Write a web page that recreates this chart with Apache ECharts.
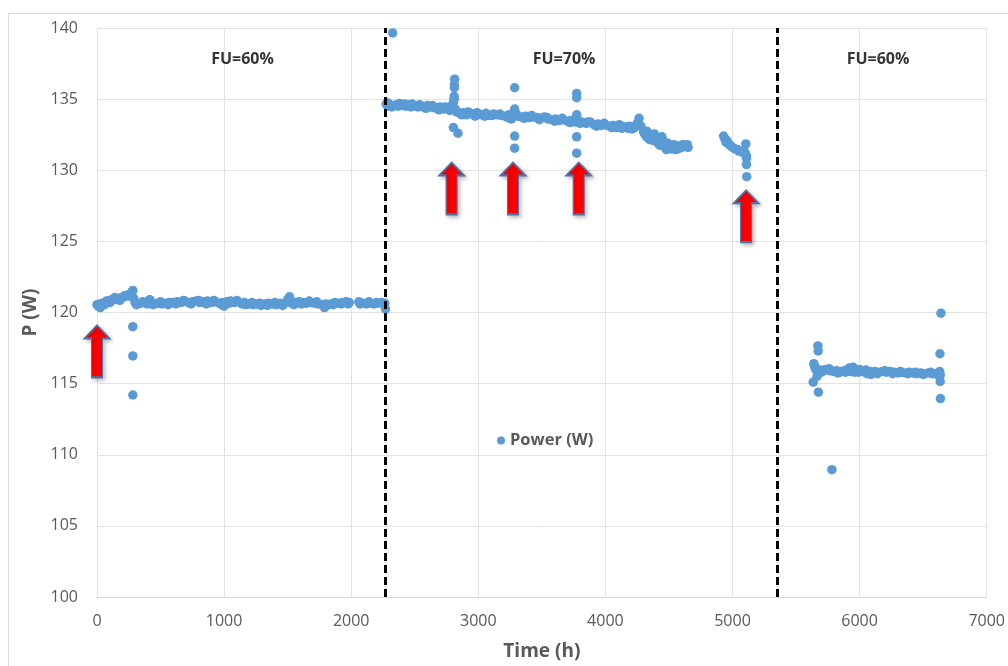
<!DOCTYPE html>
<html>
<head>
<meta charset="utf-8">
<title>Power vs time</title>
<script src="https://cdn.jsdelivr.net/npm/echarts@6/dist/echarts.min.js"></script>
<style>
  html, body { margin: 0; padding: 0; background: #fff; }
  #chart { width: 1008px; height: 666px; }
</style>
</head>
<body>
<div id="chart"></div>
<script>
// FU=60% period, first run [time h, power W]
const powerFU60a = [
  [0, 120.55], [10, 120.45], [25, 120.35], [40, 120.5], [55, 120.7], [75, 120.8],
  [95, 120.85], [115, 120.9], [135, 120.9], [155, 120.95], [175, 121.0], [195, 121.05],
  [215, 121.1], [235, 121.2], [250, 121.25], [265, 121.3], [275, 121.45], [282, 121.55],
  [290, 121.0], [300, 120.7], [320, 120.6], [345, 120.65], [370, 120.7], [395, 120.6],
  [415, 120.9], [430, 120.7], [455, 120.6], [480, 120.65], [510, 120.6], [540, 120.65],
  [570, 120.7], [600, 120.7], [630, 120.75], [660, 120.7], [690, 120.8], [720, 120.7],
  [750, 120.75], [780, 120.8], [810, 120.7], [840, 120.75], [870, 120.8], [900, 120.7],
  [930, 120.75], [960, 120.65], [990, 120.7], [1000, 120.45], [1020, 120.75], [1050, 120.8],
  [1080, 120.7], [1110, 120.75], [1140, 120.6], [1170, 120.55], [1200, 120.6], [1230, 120.55],
  [1260, 120.6], [1290, 120.5], [1320, 120.6], [1350, 120.65], [1380, 120.6], [1410, 120.55],
  [1440, 120.65], [1470, 120.6], [1500, 120.9], [1515, 121.1], [1530, 120.65], [1560, 120.7],
  [1590, 120.75], [1620, 120.7], [1650, 120.65], [1680, 120.7], [1710, 120.65], [1740, 120.6],
  [1770, 120.55], [1790, 120.35], [1810, 120.5], [1840, 120.6], [1870, 120.7], [1900, 120.65],
  [1930, 120.7], [1960, 120.75], [1985, 120.7], [2060, 120.75], [2090, 120.65], [2120, 120.6],
  [2150, 120.65], [2180, 120.6], [2210, 120.65], [2240, 120.7], [2265, 120.65], [2270, 120.25],
  [20, 120.6], [60, 120.55], [100, 120.7], [140, 121.05], [180, 120.85], [220, 121.2],
  [260, 121.15], [310, 120.55], [360, 120.75], [440, 120.55], [500, 120.75], [560, 120.55],
  [620, 120.6], [680, 120.85], [740, 120.6], [800, 120.85], [860, 120.6], [920, 120.85],
  [980, 120.55], [1040, 120.65], [1100, 120.85], [1160, 120.7], [1220, 120.7], [1280, 120.65],
  [1340, 120.5], [1400, 120.7], [1460, 120.5], [1550, 120.55], [1610, 120.6], [1670, 120.8],
  [1730, 120.75], [1800, 120.6], [1860, 120.55], [1920, 120.6], [1975, 120.6], [2070, 120.6],
  [2140, 120.75], [2200, 120.7], [2255, 120.6],
  [282, 119.0], [282, 116.95], [282, 114.2]
]

// FU=70% period
const powerFU70 = [
  [2275, 134.65], [2290, 134.5], [2305, 134.6], [2326, 139.65], [2330, 134.55], [2355, 134.6],
  [2380, 134.7], [2405, 134.55], [2430, 134.5], [2455, 134.6], [2480, 134.65], [2500, 134.55],
  [2525, 134.45], [2550, 134.5], [2575, 134.4], [2600, 134.55], [2625, 134.45], [2650, 134.4],
  [2675, 134.35], [2700, 134.45], [2725, 134.3], [2750, 134.35], [2775, 134.2], [2795, 134.4],
  [2805, 134.8], [2810, 135.0], [2810, 135.2], [2812, 135.8], [2812, 136.0], [2814, 136.4],
  [2804, 133.0], [2840, 132.6], [2830, 134.1], [2855, 134.0], [2880, 134.05], [2905, 133.9],
  [2930, 134.0], [2955, 133.95], [2975, 133.8], [3000, 133.95], [3030, 133.9], [3060, 134.0],
  [3090, 133.85], [3120, 133.95], [3150, 133.9], [3180, 133.85], [3210, 133.8], [3240, 133.9],
  [3260, 133.6], [3286, 134.3], [3286, 135.8], [3286, 132.4], [3286, 131.55], [3290, 133.85],
  [3310, 133.8], [3340, 133.75], [3370, 133.8], [3400, 133.7], [3430, 133.75], [3460, 133.7],
  [3490, 133.65], [3520, 133.75], [3550, 133.6], [3580, 133.55], [3610, 133.6], [3640, 133.5],
  [3670, 133.55], [3700, 133.45], [3730, 133.5], [3760, 133.4], [3774, 135.4], [3774, 135.1],
  [3774, 133.9], [3774, 132.35], [3774, 131.2], [3790, 133.5], [3820, 133.35], [3850, 133.3],
  [3880, 133.4], [3910, 133.2], [3940, 133.25], [3970, 133.15], [4000, 133.2], [4030, 133.1],
  [4060, 133.15], [4090, 133.0], [4110, 133.2], [4130, 132.95], [4160, 133.05], [4190, 133.1],
  [4210, 132.9], [4230, 133.0], [4250, 133.3], [4265, 133.65], [4280, 133.1], [4300, 132.7],
  [4315, 132.45], [4330, 132.3], [4345, 132.5], [4360, 132.25], [4375, 132.1], [4390, 132.3],
  [4405, 132.0], [4420, 131.85], [4440, 132.1], [4455, 131.8], [4470, 131.6], [4490, 131.9],
  [4505, 131.75], [4520, 131.5], [4540, 131.8], [4560, 131.65], [4580, 131.7], [4600, 131.6],
  [4620, 131.75], [4640, 131.7], [4650, 131.6],
  [2285, 134.75], [2320, 134.45], [2370, 134.5], [2420, 134.65], [2470, 134.45], [2540, 134.6],
  [2590, 134.35], [2640, 134.55], [2690, 134.25], [2740, 134.45], [2785, 134.5], [2820, 134.3],
  [2870, 133.9], [2920, 134.1], [2990, 134.05], [3050, 133.8], [3110, 133.85], [3170, 133.95],
  [3230, 133.7], [3300, 133.95], [3360, 133.65], [3420, 133.85], [3480, 133.55], [3540, 133.7],
  [3600, 133.45], [3660, 133.65], [3720, 133.35], [3800, 133.3], [3860, 133.4], [3930, 133.1],
  [3990, 133.3], [4050, 133.0], [4120, 133.1], [4180, 132.95], [4240, 133.15], [4310, 132.7],
  [4350, 132.15], [4400, 132.3], [4430, 131.75], [4460, 132.0], [4500, 131.55], [4530, 131.7],
  [4570, 131.5], [4610, 131.8], [4645, 131.8], [4325, 132.75], [4385, 132.55], [4445, 132.35],
  [4480, 131.45], [4550, 131.45],
  [4930, 132.4], [4940, 132.2], [4950, 131.95], [4965, 131.9], [4980, 131.75], [5000, 131.6],
  [5020, 131.5], [5040, 131.45], [5060, 131.35], [5080, 131.25], [5100, 131.2], [5105, 131.85],
  [5110, 131.0], [5110, 130.85], [5110, 130.4], [5112, 129.55],
  [4955, 132.1], [4990, 131.7], [5050, 131.35], [5090, 131.35]
]

// FU=60% period, second run
const powerFU60b = [
  [5635, 115.1], [5640, 116.4], [5645, 116.25], [5655, 116.0], [5665, 115.5], [5672, 117.65],
  [5674, 117.3], [5676, 114.4], [5690, 115.95], [5710, 115.9], [5730, 116.0], [5750, 115.95],
  [5770, 115.9], [5782, 108.95], [5800, 115.85], [5820, 115.9], [5840, 115.8], [5860, 115.85],
  [5880, 115.9], [5900, 115.95], [5920, 116.1], [5940, 116.05], [5960, 115.8], [5980, 115.95],
  [6000, 116.0], [6020, 115.9], [6040, 115.8], [6060, 115.7], [6080, 115.85], [6100, 115.75],
  [6120, 115.85], [6150, 115.8], [6180, 115.85], [6210, 115.8], [6240, 115.85], [6270, 115.8],
  [6300, 115.75], [6330, 115.8], [6360, 115.75], [6390, 115.8], [6420, 115.75], [6450, 115.7],
  [6480, 115.75], [6510, 115.7], [6540, 115.75], [6570, 115.7], [6600, 115.7], [6620, 115.75],
  [5650, 116.1], [5700, 115.8], [5760, 116.05], [5830, 115.75], [5890, 115.8], [5930, 115.85],
  [5950, 116.15], [5990, 115.8], [6050, 115.95], [6090, 115.65], [6140, 115.7], [6200, 115.9],
  [6260, 115.7], [6320, 115.85], [6380, 115.7], [6440, 115.8], [6500, 115.65], [6560, 115.8],
  [6610, 115.65],
  [6630, 115.85], [6635, 115.6], [6632, 117.1], [6634, 115.15], [6636, 113.95], [6640, 119.95]
]

// vertical dashed dividers between FU periods (h)
const dividers = [2270, 5355]

// red arrows: [time, tip power]
const arrows = [[0, 119.1], [2790, 130.55], [3273, 130.55], [3790, 130.55], [5107, 128.6]]

// period labels: [time, power, text]
const phaseLabels = [[1145, 137.8, 'FU=60%'], [3675, 137.8, 'FU=70%'], [6145, 137.8, 'FU=60%']]

const chart = echarts.init(document.getElementById('chart'))

const font = "'Open Sans', 'Liberation Sans', sans-serif"
const arrowPath = 'path://M12.5,0 L25,13 L18,13 L18,52 L7,52 L7,13 L0,13 Z'

chart.setOption({
  animation: false,
  textStyle: { fontFamily: font },
  graphic: [{
    type: 'rect',
    shape: { x: 8.5, y: 13.5, width: 1020, height: 680 },
    style: { fill: 'none', stroke: '#d9d9d9', lineWidth: 1 },
    silent: true
  }],
  grid: { left: 97, right: 16, top: 28, bottom: 69 },
  legend: {
    data: ['Power (W)'],
    left: 492,
    top: 427,
    itemWidth: 8,
    itemHeight: 8,
    icon: 'circle',
    textStyle: { color: '#595959', fontSize: 16.5, fontWeight: 'bold', fontFamily: font }
  },
  xAxis: {
    type: 'value',
    min: 0,
    max: 7000,
    interval: 1000,
    name: 'Time (h)',
    nameLocation: 'middle',
    nameGap: 45,
    nameTextStyle: { color: '#595959', fontSize: 19, fontWeight: 'bold' },
    axisLine: { lineStyle: { color: '#d9d9d9' } },
    axisTick: { show: false },
    axisLabel: { color: '#595959', fontSize: 16, margin: 16, formatter: v => String(v) },
    splitLine: { lineStyle: { color: '#e3e3e3' } }
  },
  yAxis: {
    type: 'value',
    min: 100,
    max: 140,
    interval: 5,
    name: 'P (W)',
    nameLocation: 'middle',
    nameGap: 55,
    nameTextStyle: { color: '#595959', fontSize: 19, fontWeight: 'bold' },
    axisLine: { show: false },
    axisTick: { show: false },
    axisLabel: { color: '#595959', fontSize: 16, margin: 19 },
    splitLine: { lineStyle: { color: '#e3e3e3' } }
  },
  series: [
    {
      name: 'Power (W)',
      type: 'scatter',
      symbolSize: 9.5,
      itemStyle: { color: '#5b9bd5', opacity: 1 },
      data: powerFU60a.concat(powerFU70, powerFU60b),
      markLine: {
        silent: true,
        symbol: 'none',
        label: { show: false },
        lineStyle: { color: '#000', width: 3, type: [8, 4] },
        data: dividers.map(x => ({ xAxis: x }))
      },
      markPoint: {
        silent: true,
        symbol: arrowPath,
        symbolSize: [25, 52],
        symbolKeepAspect: false,
        symbolOffset: [0, '50%'],
        label: { show: false },
        itemStyle: {
          color: '#ff0000',
          borderColor: '#4f73a8',
          borderWidth: 1.5,
          shadowColor: 'rgba(0,0,0,0.25)',
          shadowBlur: 4,
          shadowOffsetX: 2,
          shadowOffsetY: 2
        },
        data: arrows.map(a => ({ coord: a }))
      }
    },
    {
      name: 'labels',
      type: 'scatter',
      silent: true,
      symbolSize: 0,
      data: phaseLabels,
      label: {
        show: true,
        position: 'inside',
        formatter: p => p.value[2],
        color: '#000',
        fontSize: 16,
        fontWeight: 'bold',
        fontFamily: font
      }
    }
  ]
})
</script>
</body>
</html>
